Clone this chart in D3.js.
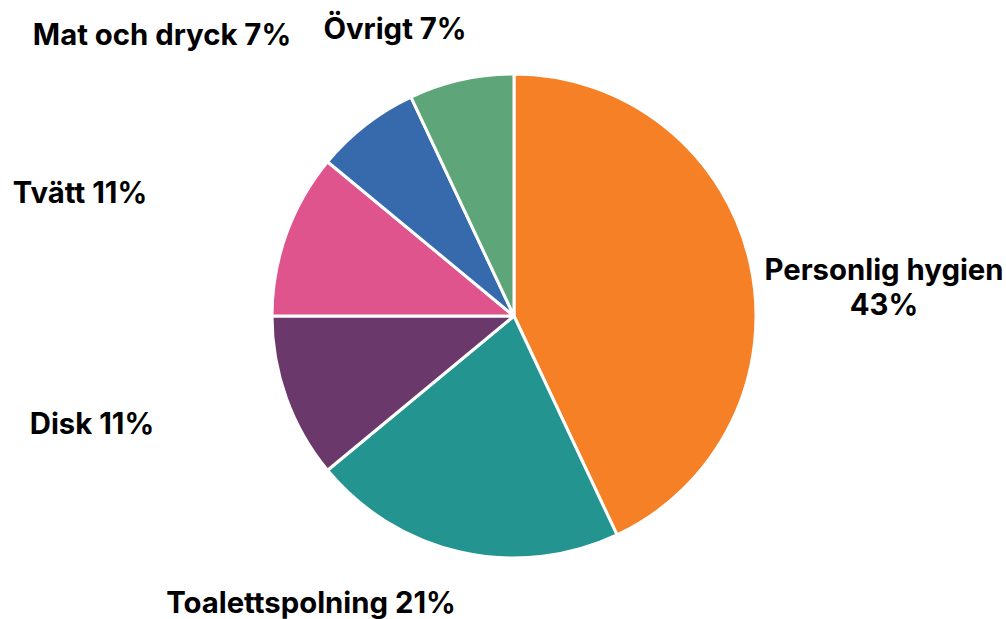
<!DOCTYPE html>
<html>
<head>
<meta charset="utf-8">
<script src="https://cdn.jsdelivr.net/npm/d3@7"></script>
<style>
body { margin: 0; background: #fff; }
.lbl { font-family: Inter, "Noto Sans", sans-serif; font-weight: 700; font-size: 29.3px; fill: #000; }
</style>
</head>
<body>
<div id="chart"></div>
<script>
const categories = ["Personlig hygien", "Toalettspolning", "Disk", "Tvätt", "Mat och dryck", "Övrigt"];
const values = [43, 21, 11, 11, 7, 7];
const colors = ["#F58025", "#239490", "#6A386A", "#E0548E", "#376AAC", "#5EA679"];

// label placement (text lines, anchor x, first baseline y)
const labelLayout = [
  { lines: ["Personlig hygien", "43%"], x: 884, y: 280 },
  { lines: ["Toalettspolning 21%"], x: 311, y: 613 },
  { lines: ["Disk 11%"], x: 92, y: 434 },
  { lines: ["Tvätt 11%"], x: 80, y: 203 },
  { lines: ["Mat och dryck 7%"], x: 162, y: 45 },
  { lines: ["Övrigt 7%"], x: 395, y: 39 }
];

const svgWidth = 1006, svgHeight = 619;
const cx = 514, cy = 316, radius = 242;

const svg = d3.select("#chart").append("svg")
  .attr("width", svgWidth)
  .attr("height", svgHeight);

const data = categories.map((c, i) => ({ name: c, value: values[i] }));

const pie = d3.pie().sort(null).value(d => d.value);
const arc = d3.arc().innerRadius(0).outerRadius(radius);

const g = svg.append("g").attr("transform", `translate(${cx},${cy})`);

g.selectAll("path")
  .data(pie(data))
  .enter()
  .append("path")
  .attr("d", arc)
  .attr("fill", (d, i) => colors[i])
  .attr("stroke", "#fff")
  .attr("stroke-width", 3)
  .attr("stroke-linejoin", "round");

labelLayout.forEach(l => {
  const t = svg.append("text")
    .attr("class", "lbl")
    .attr("text-anchor", "middle")
    .attr("x", l.x)
    .attr("y", l.y);
  l.lines.forEach((line, j) => {
    t.append("tspan")
      .attr("x", l.x)
      .attr("dy", j === 0 ? 0 : 35)
      .text(line);
  });
});
</script>
</body>
</html>
